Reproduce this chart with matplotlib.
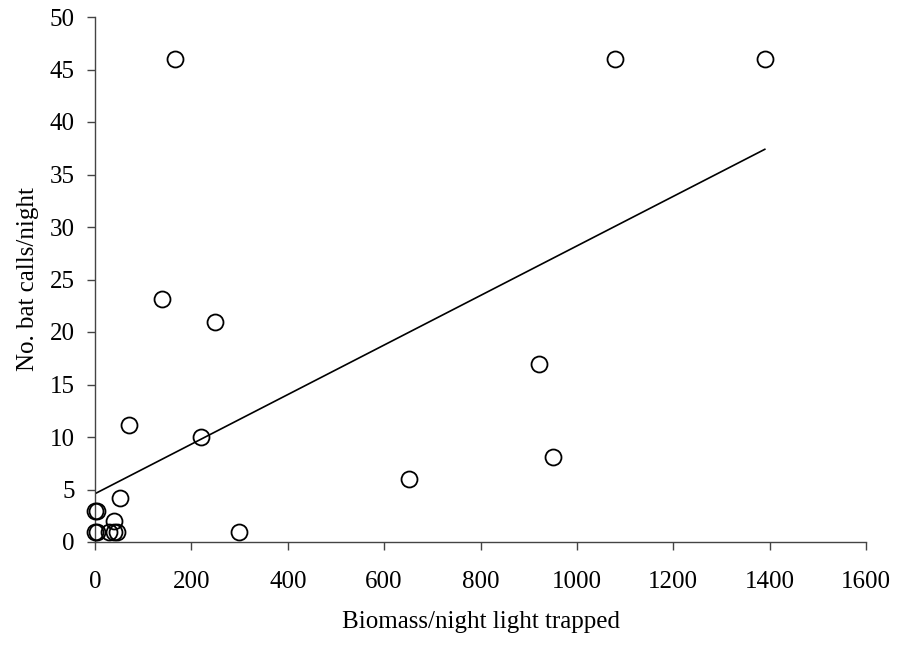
import numpy as np
import matplotlib
matplotlib.use("Agg")
import matplotlib.pyplot as plt

# Light-trapped biomass per night vs. bat calls per night
biomass = [0, 5, 0, 5, 40, 30, 40, 45, 52, 70, 220, 298, 140, 248, 165, 921, 951, 651, 1080, 1390]
bat_calls = [3, 3, 1, 1, 2, 1, 1, 1, 4.2, 11.1, 10, 1, 23.1, 21, 46, 17, 8.1, 6, 46, 46]

# trend line
trend_x = [0, 1390]
trend_y = [4.6, 37.4]

x_ticks = [0, 200, 400, 600, 800, 1000, 1200, 1400, 1600]
y_ticks = [0, 5, 10, 15, 20, 25, 30, 35, 40, 45, 50]

plt.rcParams.update({
    "font.family": ["Liberation Serif", "DejaVu Serif"],
    "font.size": 18,
})

fig = plt.figure(figsize=(8.98, 6.48), dpi=100)
ax = fig.add_axes([95 / 898, (648 - 542) / 648, (866 - 95) / 898, (542 - 17) / 648])

ax.plot(trend_x, trend_y, color="black", linewidth=1.2, zorder=2)
ax.plot(biomass, bat_calls, linestyle="none", marker="o", markersize=11.5,
        markerfacecolor="none", markeredgecolor="black", markeredgewidth=1.3,
        clip_on=False, zorder=3)

ax.set_xlim(0, 1600)
ax.set_ylim(0, 50)
ax.set_xticks(x_ticks)
ax.set_yticks(y_ticks)

for side in ("top", "right"):
    ax.spines[side].set_visible(False)
for side in ("left", "bottom"):
    ax.spines[side].set_linewidth(1.0)
    ax.spines[side].set_color("#444444")

ax.tick_params(axis="x", direction="out", length=6, width=1.0, color="#444444", pad=15)
ax.tick_params(axis="y", direction="out", length=6, width=1.0, color="#444444", pad=8.5)

ax.set_xlabel("Biomass/night light trapped", fontsize=18, labelpad=13)
ax.set_ylabel("No. bat calls/night", fontsize=18, labelpad=8)

fig.savefig("out.png", dpi=100, facecolor="white")
